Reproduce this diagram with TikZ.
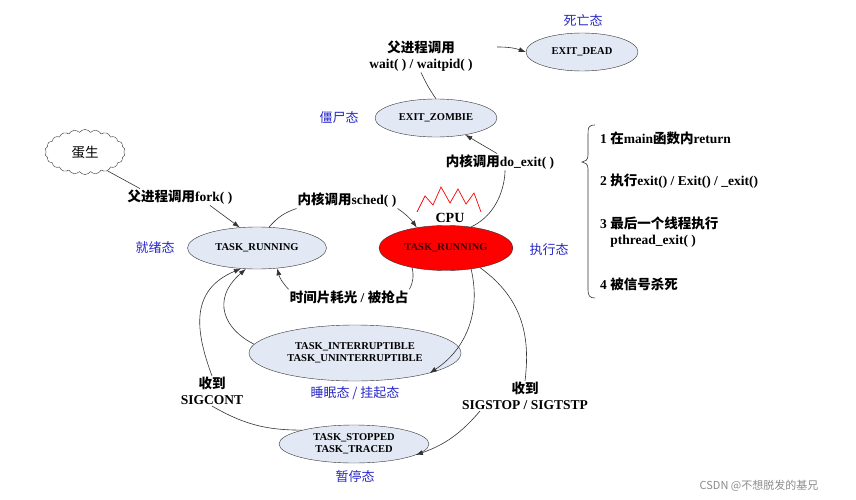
\documentclass[tikz,border=0pt]{standalone}
\usepackage{fontspec}
\setmainfont{Liberation Serif}
\newfontfamily\cjk{Noto Sans CJK SC}
\usetikzlibrary{shapes.geometric,shapes.symbols,arrows.meta,decorations.pathreplacing}
\definecolor{stfill}{RGB}{226,232,244}
\definecolor{lblue}{RGB}{40,40,200}
\newcommand{\zh}[1]{{\cjk #1}}
\tikzset{
  st/.style={ellipse,draw=black!80,fill=stfill,inner sep=0pt,font=\bfseries\fontsize{10.5}{12}\selectfont,align=center},
  lab/.style={font=\bfseries\fontsize{13.5}{16}\selectfont,align=center,inner sep=1pt},
  blab/.style={font=\cjk\fontsize{13}{15}\selectfont,text=lblue,inner sep=1pt},
  arr/.style={-{Latex[length=7pt,width=5pt]},black!80,line width=0.6pt},
  ln/.style={black!80,line width=0.6pt}
}
\begin{document}
\begin{tikzpicture}[x=1pt,y=-1pt]
\useasboundingbox[fill=white] (0,0) rectangle (856,500);
% states
\node[st,minimum width=112pt,minimum height=38pt] (dead) at (582,52) {EXIT\_DEAD};
\node[st,minimum width=122pt,minimum height=38pt] (zombie) at (436,118) {EXIT\_ZOMBIE};
\node[st,minimum width=139pt,minimum height=42pt] (ready) at (257,248) {TASK\_RUNNING};
\node[st,fill=red,draw=black!80,text=black!75!red,minimum width=134pt,minimum height=45pt] (run) at (446,248) {TASK\_RUNNING};
\node[st,minimum width=212pt,minimum height=56pt] (sleep) at (355,353) {TASK\_INTERRUPTIBLE\\TASK\_UNINTERRUPTIBLE};
\node[st,minimum width=150pt,minimum height=38pt] (stop) at (354,444) {TASK\_STOPPED\\TASK\_TRACED};
\node[cloud,draw=black!80,cloud puffs=22,cloud puff arc=110,minimum width=80pt,minimum height=45pt,aspect=1.5,font=\cjk\fontsize{13.5}{15}\selectfont] (egg) at (85,152) {蛋生};
% blue labels
\node[blab] (l1) at (583,20) {死亡态};
\node[blab] (l2) at (339,118) {僵尸态};
\node[blab] (l3) at (155,248) {就绪态};
\node[blab] (l4) at (549,250) {执行态};
\node[blab] (l5) at (355,393) {睡眠态 / 挂起态};
\node[blab] (l6) at (355,477) {暂停态};
% CPU
\node[lab,font=\bfseries\fontsize{14}{16}\selectfont] (cpu) at (450,218) {CPU};
\draw[red,line width=0.7pt] (417,212)--(425,196)--(433,205)--(441,187)--(450,203)--(458,189)--(466,204)--(474,193)--(481,212);
% transition labels
\node[lab] (wl) at (421,56) {\zh{父进程调用}\\wait( ) / waitpid( )};
\node[lab,fill=white] (xl) at (500,162) {\zh{内核调用}do\_exit( )};
\node[lab,fill=white] (fl) at (180,197) {\zh{父进程调用}fork( )};
\node[lab,fill=white] (sl) at (347,200) {\zh{内核调用}sched( )};
\node[lab] (pl) at (349,297) {\zh{时间片耗光} / \zh{被抢占}};
\node[lab] (cl) at (212,391) {\zh{收到}\\SIGCONT};
\node[lab] (tl) at (525,396) {\zh{收到}\\SIGSTOP / SIGTSTP};
% connectors
\coordinate (wa) at (497,47);
\draw[arr] (wa) to[bend left=10] (dead.west);
\draw[ln] (zombie.north) to[bend left=5] (wl.south);
\draw[ln] (run.40) .. controls (506,210) and (505,170) .. (xl.south -| 505,0);
\draw[arr] (xl.north -| 497,0) -- (zombie.-30);
\draw[ln] (egg.-40) -- (fl.north west -| 140,0);
\draw[arr] (fl.south east -| 210,0) -- (ready.130);
\draw[ln] (ready.60) to[bend left=15] (sl.south west);
\draw[arr] (sl.south east) to[bend left=10] (run.145);
\draw[ln] (run.-150) to[bend left=20] (pl.north east);
\draw[arr] (pl.north west) to[bend left=15] (ready.-45);
\draw[arr] (run.-40) to[bend left=35] (sleep.-15);
\draw[arr] (sleep.175) .. controls (225,330) and (210,300) .. (ready.-118);
\draw[ln] (run.-30) .. controls (525,300) and (530,340) .. (tl.north);
\draw[arr] (tl.south -| 480,0) to[bend left=15] (stop.-10);
\draw[ln] (stop.165) to[bend left=15] (cl.south);
\draw[arr] (cl.north) .. controls (195,330) and (190,290) .. (ready.-128);
% brace and list
\draw[ln] (595,125) .. controls (588,125) and (588,128) .. (588,135) -- (588,155) .. controls (588,160) and (585,162) .. (582,162) .. controls (585,162) and (588,164) .. (588,169) -- (588,290) .. controls (588,296) and (590,298) .. (595,298);
\node[lab,anchor=west] (i1) at (599,138) {1 \zh{在}main\zh{函数内}return};
\node[lab,anchor=west] (i2) at (599,181) {2 \zh{执行}exit() / Exit() / \_exit()};
\node[lab,anchor=west,align=left] (i3) at (599,232) {3 \zh{最后一个线程执行}\\\phantom{3 }pthread\_exit( )};
\node[lab,anchor=west] (i4) at (599,284) {4 \zh{被信号杀死}};
\node[font=\cjk\fontsize{11}{13}\selectfont,text=black!45] (wm) at (759,486) {CSDN @不想脱发的基兄};
\end{tikzpicture}
\end{document}
